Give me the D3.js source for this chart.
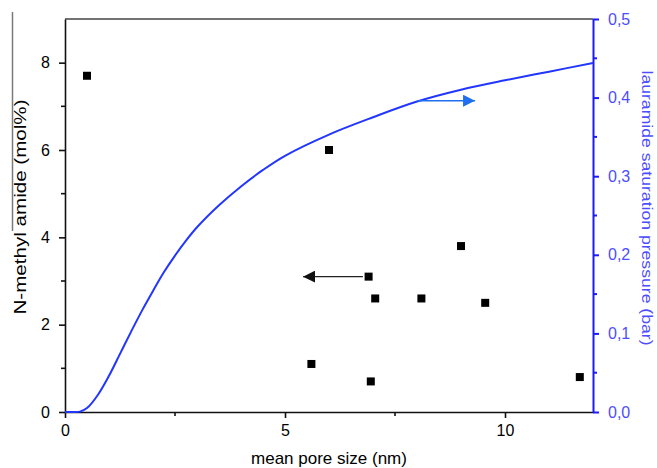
<!DOCTYPE html>
<html>
<head>
<meta charset="utf-8">
<script src="https://cdn.jsdelivr.net/npm/d3@7/dist/d3.min.js"></script>
<style>
  html, body { margin: 0; padding: 0; background: #fff; }
  svg { display: block; font-family: "Liberation Sans", Arial, sans-serif; }
</style>
</head>
<body>
<svg id="chart" width="657" height="468"></svg>
<script>
// Measured N-methyl amide content vs. mean pore size
const poreSize = [0.5, 6.0, 9.0, 6.9, 7.05, 8.1, 9.55, 5.6, 6.95, 11.7];
const amideMol = [7.7, 6.0, 3.8, 3.1, 2.6, 2.6, 2.5, 1.1, 0.7, 0.8];

// Lauramide saturation pressure curve (bar) vs. pore size (nm)
const curveSize     = [0, 0.2, 0.34, 0.5, 0.75, 1.0, 1.25, 1.5, 1.75, 2.0, 2.25, 2.5, 2.75, 3.0, 3.5, 4.0, 4.5, 5.0, 6.0, 7.0, 8.0, 9.0, 10.0, 11.0, 12.0];
const curvePressure = [0, 0, 0.0005, 0.005, 0.022, 0.046, 0.074, 0.102, 0.129, 0.154, 0.178, 0.199, 0.218, 0.235, 0.263, 0.287, 0.308, 0.326, 0.353, 0.375, 0.395, 0.41, 0.422, 0.433, 0.444];

const xTicks = [0, 5, 10];
const xMinorTicks = [2.5, 7.5];
const yLeftTicks = [0, 2, 4, 6, 8];
const yLeftMinor = [1, 3, 5, 7];
const yRightTicks = [0, 0.1, 0.2, 0.3, 0.4, 0.5];
const yRightMinor = [0.05, 0.15, 0.25, 0.35, 0.45];

// Axis direction arrows: [x from, x to, y value]
const leftArrow = [6.77, 5.41, 3.1];
const rightArrow = [8.0, 9.32, 0.396];

const svg = d3.select("#chart");
const m = { left: 65, right: 593, top: 19, bottom: 412 };

const x = d3.scaleLinear().domain([0, 12]).range([m.left, m.right]);
const yL = d3.scaleLinear().domain([0, 9]).range([m.bottom, m.top]);
const yR = d3.scaleLinear().domain([0, 0.5]).range([m.bottom, m.top]);

const black = "#111";
const axisBlue = "#1a1aff";
const labelBlue = "#4d4dff";
const curveBlue = "#2236ff";
const arrowBlue = "#1f6ff0";
const tickFont = 16;

const defs = svg.append("defs");
function marker(id, color) {
  defs.append("marker")
    .attr("id", id).attr("viewBox", "0 0 12 12")
    .attr("refX", 12).attr("refY", 6)
    .attr("markerWidth", 12).attr("markerHeight", 12)
    .attr("markerUnits", "userSpaceOnUse").attr("orient", "auto")
    .append("path").attr("d", "M0,0 L12,6 L0,12 Z").attr("fill", color);
}
marker("headBlack", black);
marker("headBlue", arrowBlue);

// stray rule at the top-left edge
svg.append("line").attr("x1", 12.5).attr("x2", 12.5).attr("y1", 12).attr("y2", 231)
  .attr("stroke", "#7a7a7a").attr("stroke-width", 1.5);

// top frame line
svg.append("line").attr("x1", m.left).attr("x2", m.right).attr("y1", m.top).attr("y2", m.top)
  .attr("stroke", "#444").attr("stroke-width", 1.5);

function styleAxis(g, color, width, textColor) {
  g.attr("font-size", tickFont).attr("font-family", "Liberation Sans, Arial, sans-serif");
  g.select(".domain").attr("stroke", color).attr("stroke-width", width);
  g.selectAll(".tick line").attr("stroke", color).attr("stroke-width", width);
  g.selectAll(".tick text").attr("fill", textColor);
}

// bottom axis
const gx = svg.append("g").attr("transform", `translate(0,${m.bottom})`)
  .call(d3.axisBottom(x).tickValues(xTicks).tickSize(6).tickSizeOuter(0).tickPadding(7));
styleAxis(gx, black, 1.6, "#000");
svg.append("g").selectAll("line").data(xMinorTicks).join("line")
  .attr("x1", d => x(d)).attr("x2", d => x(d)).attr("y1", m.bottom).attr("y2", m.bottom + 4)
  .attr("stroke", black).attr("stroke-width", 1.6);

// left axis
const gy = svg.append("g").attr("transform", `translate(${m.left},0)`)
  .call(d3.axisLeft(yL).tickValues(yLeftTicks).tickSize(6).tickSizeOuter(0).tickPadding(9));
styleAxis(gy, black, 1.6, "#000");
svg.append("g").selectAll("line").data(yLeftMinor).join("line")
  .attr("x1", m.left - 4).attr("x2", m.left).attr("y1", d => yL(d)).attr("y2", d => yL(d))
  .attr("stroke", black).attr("stroke-width", 1.6);

// right axis
const gr = svg.append("g").attr("transform", `translate(${m.right},0)`)
  .call(d3.axisRight(yR).tickValues(yRightTicks).tickSize(6).tickSizeOuter(0).tickPadding(9)
    .tickFormat(d => d3.format(".1f")(d).replace(".", ",")));
styleAxis(gr, axisBlue, 2, labelBlue);
svg.append("g").selectAll("line").data(yRightMinor).join("line")
  .attr("x1", m.right).attr("x2", m.right + 4).attr("y1", d => yR(d)).attr("y2", d => yR(d))
  .attr("stroke", axisBlue).attr("stroke-width", 2);

// axis titles
svg.append("text").attr("x", x(6)).attr("y", 464).attr("text-anchor", "middle")
  .attr("font-size", 17).attr("fill", "#000").text("mean pore size (nm)");
svg.append("text").attr("transform", "translate(26,207) rotate(-90)")
  .attr("text-anchor", "middle").attr("font-size", 16.5).attr("fill", "#000")
  .attr("textLength", 215).attr("lengthAdjust", "spacingAndGlyphs")
  .text("N-methyl amide (mol%)");
svg.append("text").attr("transform", "translate(642,208) rotate(90)")
  .attr("text-anchor", "middle").attr("font-size", 15).attr("fill", labelBlue)
  .attr("textLength", 275).attr("lengthAdjust", "spacingAndGlyphs")
  .text("lauramide saturation pressure (bar)");

// saturation pressure curve
const curveData = curveSize.map((s, i) => [s, curvePressure[i]]);
svg.append("path").datum(curveData)
  .attr("d", d3.line().x(d => x(d[0])).y(d => yR(d[1])).curve(d3.curveCatmullRom.alpha(0.5)))
  .attr("fill", "none").attr("stroke", curveBlue).attr("stroke-width", 2);

// measured points
const pts = poreSize.map((s, i) => [s, amideMol[i]]);
svg.append("g").selectAll("rect").data(pts).join("rect")
  .attr("x", d => x(d[0]) - 4).attr("y", d => yL(d[1]) - 4)
  .attr("width", 8).attr("height", 8).attr("fill", "#000");

// arrows pointing to each series' axis
svg.append("line")
  .attr("x1", x(leftArrow[0])).attr("x2", x(leftArrow[1]))
  .attr("y1", yL(leftArrow[2])).attr("y2", yL(leftArrow[2]))
  .attr("stroke", "#222").attr("stroke-width", 1.3).attr("marker-end", "url(#headBlack)");
svg.append("line")
  .attr("x1", x(rightArrow[0])).attr("x2", x(rightArrow[1]))
  .attr("y1", yR(rightArrow[2])).attr("y2", yR(rightArrow[2]))
  .attr("stroke", arrowBlue).attr("stroke-width", 1.6).attr("marker-end", "url(#headBlue)");
</script>
</body>
</html>
